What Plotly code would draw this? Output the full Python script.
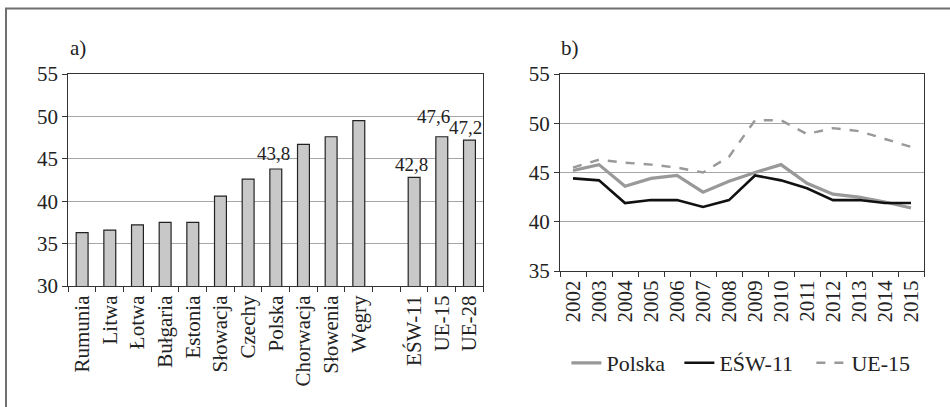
import plotly.graph_objects as go

# ---- data: panel a) ----
countries = ["Rumunia", "Litwa", "Łotwa", "Bułgaria", "Estonia", "Słowacja", "Czechy",
             "Polska", "Chorwacja", "Słowenia", "Węgry", " ", "EŚW-11", "UE-15", "UE-28"]
country_values = [36.3, 36.6, 37.2, 37.5, 37.5, 40.6, 42.6,
                  43.8, 46.7, 47.6, 49.5, None, 42.8, 47.6, 47.2]
labelled = ["Polska", "EŚW-11", "UE-15", "UE-28"]
label_texts = ["43,8", "42,8", "47,6", "47,2"]

# ---- data: panel b) ----
years = ["2002", "2003", "2004", "2005", "2006", "2007", "2008",
         "2009", "2010", "2011", "2012", "2013", "2014", "2015"]
polska = [45.2, 45.8, 43.6, 44.4, 44.7, 43.0, 44.1, 45.0, 45.8, 43.9, 42.8, 42.5, 42.0, 41.4]
esw11 = [44.4, 44.2, 41.9, 42.2, 42.2, 41.5, 42.2, 44.7, 44.2, 43.4, 42.2, 42.2, 41.9, 41.9]
ue15 = [45.5, 46.3, 46.0, 45.8, 45.5, 45.0, 46.6, 50.3, 50.3, 48.9, 49.5, 49.2, 48.4, 47.6]

FONT = "Liberation Serif, Times New Roman, serif"
W, H = 950, 407

fig = go.Figure()

fig.add_trace(go.Bar(
    x=countries, y=country_values, xaxis="x", yaxis="y",
    marker=dict(color="#c8c8c8", line=dict(color="#222222", width=1.2)),
    width=0.43, showlegend=False, hoverinfo="x+y"))

fig.add_trace(go.Scatter(x=years, y=polska, name="Polska", mode="lines",
                         xaxis="x2", yaxis="y2", legendwidth=68,
                         line=dict(color="#999999", width=3.2)))
fig.add_trace(go.Scatter(x=years, y=esw11, name="EŚW-11", mode="lines",
                         xaxis="x2", yaxis="y2", legendwidth=87,
                         line=dict(color="#111111", width=2.6)))
fig.add_trace(go.Scatter(x=years, y=ue15, name="UE-15", mode="lines",
                         xaxis="x2", yaxis="y2",
                         line=dict(color="#999999", width=2.4, dash="dash")))

axis_common = dict(showline=True, linecolor="#333333", linewidth=1.2, mirror=True,
                   ticks="outside", tickcolor="#333333", ticklen=5, automargin=False,
                   tickfont=dict(family=FONT, size=21, color="#222222"))

fig.update_layout(
    width=W, height=H,
    margin=dict(l=0, r=0, t=0, b=0, autoexpand=False),
    paper_bgcolor="white", plot_bgcolor="white",
    font=dict(family=FONT, color="#222222"),
    xaxis=dict(domain=[68.3 / W, 483.3 / W], anchor="y", type="category",
               tickson="boundaries", tickangle=-90, showgrid=False,
               range=[-0.5, 14.5], **axis_common),
    yaxis=dict(domain=[1 - 286 / H, 1 - 74 / H], anchor="x", range=[30, 55],
               dtick=5, showgrid=True, gridcolor="#a6a6a6", gridwidth=1,
               zeroline=False, **axis_common),
    xaxis2=dict(domain=[560 / W, 924 / W], anchor="y2", type="category",
                tickson="boundaries", tickangle=-90, showgrid=False,
                range=[-0.5, 13.5], **axis_common),
    yaxis2=dict(domain=[1 - 271 / H, 1 - 74 / H], anchor="x2", range=[35, 55],
                dtick=5, showgrid=True, gridcolor="#a6a6a6", gridwidth=1,
                zeroline=False, **axis_common),
    legend=dict(orientation="h", x=0.5962, y=1 - 363 / H, yanchor="middle",
                xanchor="left", font=dict(family=FONT, size=22, color="#222222"),
                bgcolor="rgba(0,0,0,0)", traceorder="normal"),
    showlegend=True,
)

# value labels on selected bars
label_offsets = {"Polska": (-2, 3), "EŚW-11": (-3, 0), "UE-15": (-8, 8), "UE-28": (-4, 0)}
for name, txt in zip(labelled, label_texts):
    v = country_values[countries.index(name)]
    dx, dy = label_offsets[name]
    fig.add_annotation(x=name, y=v, xref="x", yref="y", text=txt, showarrow=False,
                       xanchor="center", yanchor="bottom", xshift=dx, yshift=dy,
                       font=dict(family=FONT, size=19, color="#222222"))

# panel letters
fig.add_annotation(x=68 / W, y=1 - 48 / H, xref="paper", yref="paper", text="a)",
                   showarrow=False, xanchor="left", yanchor="middle",
                   font=dict(family=FONT, size=21, color="#222222"))
fig.add_annotation(x=559 / W, y=1 - 48 / H, xref="paper", yref="paper", text="b)",
                   showarrow=False, xanchor="left", yanchor="middle",
                   font=dict(family=FONT, size=21, color="#222222"))

# outer frame (cropped on right and bottom)
fig.add_shape(type="rect", xref="paper", yref="paper",
              x0=6 / W, x1=1.05, y0=-0.1, y1=1 - 8.5 / H,
              line=dict(color="#707070", width=2), fillcolor="rgba(0,0,0,0)")

fig.write_html("out.html", config={"displayModeBar": False},
               post_script="document.body.style.margin='0';document.body.style.overflow='hidden';")
